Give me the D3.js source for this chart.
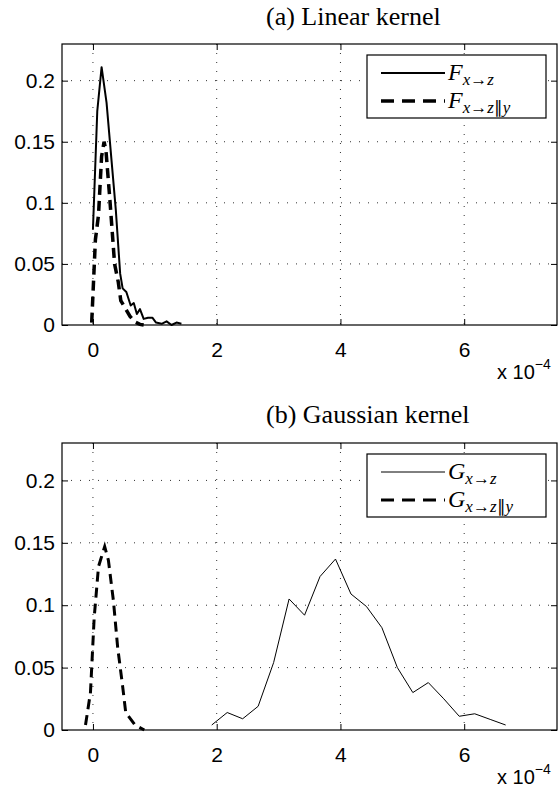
<!DOCTYPE html>
<html>
<head>
<meta charset="utf-8">
<script src="https://cdn.jsdelivr.net/npm/d3@7/dist/d3.min.js"></script>
<style>
  body { margin: 0; background: #fff; }
  svg { display: block; }
</style>
</head>
<body>
<div id="chart"></div>
<script>
// x values are in units of 1e-4
var xTicks = [0, 2, 4, 6];
var yTicks = [0, 0.05, 0.1, 0.15, 0.2];

var linX   = [0, 0.07, 0.14, 0.22, 0.30, 0.37, 0.44, 0.48, 0.54, 0.61, 0.66, 0.71, 0.76, 0.82, 0.89, 0.96, 1.02, 1.11, 1.19, 1.27, 1.35, 1.43];
var linF   = [0.078, 0.175, 0.211, 0.182, 0.135, 0.094, 0.042, 0.030, 0.027, 0.016, 0.018, 0.009, 0.013, 0.005, 0.006, 0.006, 0.002, 0.001, 0.003, 0, 0.002, 0.001];
var linCX  = [-0.02, 0.04, 0.09, 0.14, 0.18, 0.21, 0.27, 0.35, 0.41, 0.45, 0.52, 0.60, 0.68, 0.76, 0.82];
var linCF  = [0.002, 0.07, 0.09, 0.138, 0.150, 0.143, 0.105, 0.05, 0.035, 0.02, 0.014, 0.007, 0.0025, 0.0005, 0];

var gauX   = [1.92, 2.17, 2.42, 2.67, 2.92, 3.17, 3.42, 3.67, 3.92, 4.17, 4.42, 4.67, 4.92, 5.17, 5.42, 5.67, 5.92, 6.17, 6.42, 6.67];
var gauG   = [0.004, 0.014, 0.009, 0.019, 0.054, 0.105, 0.092, 0.123, 0.137, 0.109, 0.099, 0.082, 0.050, 0.030, 0.038, 0.025, 0.011, 0.013, 0.0085, 0.004];
var gauCX  = [-0.12, -0.04, 0.02, 0.09, 0.19, 0.25, 0.33, 0.40, 0.48, 0.53, 0.68, 0.83];
var gauCG  = [0.004, 0.03, 0.09, 0.131, 0.147, 0.136, 0.104, 0.066, 0.035, 0.014, 0.004, 0];

var W = 558, H = 792;
var svg = d3.select("#chart").append("svg").attr("width", W).attr("height", H);

var panels = [
  { title: "(a) Linear kernel", titleY: 25, top: 44, bottom: 325, sym: "F",
    solid: { x: linX, y: linF, w: 2 }, dashed: { x: linCX, y: linCF, w: 3.5 } },
  { title: "(b) Gaussian kernel", titleY: 423, top: 443, bottom: 730, sym: "G",
    solid: { x: gauX, y: gauG, w: 1 }, dashed: { x: gauCX, y: gauCG, w: 3 } }
];

var left = 62, right = 557;
var sans = "Liberation Sans, Arial, Helvetica, sans-serif";
var serif = "Liberation Serif, Times New Roman, serif";

panels.forEach(function(p) {
  var x = d3.scaleLinear().domain([-0.5, 7.5]).range([left, right]);
  var y = d3.scaleLinear().domain([0, 0.23]).range([p.bottom, p.top]);
  var g = svg.append("g");
  var ph = p.bottom - p.top, pw = right - left;

  // dotted grid
  g.append("g").selectAll("line").data(xTicks).enter().append("line")
    .attr("x1", function(d) { return x(d); }).attr("x2", function(d) { return x(d); })
    .attr("y1", p.top).attr("y2", p.bottom)
    .attr("stroke", "#333").attr("stroke-width", 1).attr("stroke-dasharray", "1,8");
  g.append("g").selectAll("line").data(yTicks.slice(1)).enter().append("line")
    .attr("y1", function(d) { return y(d); }).attr("y2", function(d) { return y(d); })
    .attr("x1", left).attr("x2", right)
    .attr("stroke", "#333").attr("stroke-width", 1).attr("stroke-dasharray", "1,8");

  // axes, ticks inward on all four sides
  var ax = g.append("g").attr("transform", "translate(0," + p.bottom + ")")
    .call(d3.axisBottom(x).tickValues(xTicks).tickSize(-6).tickPadding(17).tickFormat(d3.format("d")));
  g.append("g").attr("transform", "translate(" + left + ",0)")
    .call(d3.axisLeft(y).tickValues(yTicks).tickSize(-6).tickPadding(7).tickFormat(function(d) { return d === 0 ? "0" : String(d); }));
  g.append("g").attr("transform", "translate(0," + p.top + ")")
    .call(d3.axisTop(x).tickValues(xTicks).tickSize(-6).tickFormat(""));
  g.append("g").attr("transform", "translate(" + right + ",0)")
    .call(d3.axisRight(y).tickValues(yTicks).tickSize(-6).tickFormat(""));
  g.selectAll(".domain").remove();
  g.selectAll(".tick line").attr("stroke", "#000");
  g.selectAll(".tick text").attr("fill", "#000").attr("font-family", sans).attr("font-size", 21);
  g.selectAll("g").attr("font-size", null).attr("font-family", null);
  ax.selectAll(".tick text").attr("dy", "0.71em");
  g.append("rect").attr("x", left).attr("y", p.top).attr("width", pw).attr("height", ph)
    .attr("fill", "none").attr("stroke", "#000").attr("stroke-width", 1.2);

  // lines
  var line = d3.line().x(function(d) { return x(d[0]); }).y(function(d) { return y(d[1]); });
  g.append("path").datum(d3.zip(p.solid.x, p.solid.y)).attr("d", line)
    .attr("fill", "none").attr("stroke", "#000").attr("stroke-width", p.solid.w).attr("stroke-linejoin", "round");
  g.append("path").datum(d3.zip(p.dashed.x, p.dashed.y)).attr("d", line)
    .attr("fill", "none").attr("stroke", "#000").attr("stroke-width", p.dashed.w).attr("stroke-dasharray", "10,6");

  // exponent label
  var ex = g.append("text").attr("x", 497).attr("y", p.bottom + 54)
    .attr("font-family", sans).attr("font-size", 20).attr("fill", "#000");
  ex.append("tspan").text("x 10");
  ex.append("tspan").attr("dy", -10).attr("font-size", 14).text("\u22124");

  // title
  svg.append("text").attr("x", 266).attr("y", p.titleY)
    .attr("font-family", serif).attr("font-size", 26).attr("fill", "#000")
    .text(p.title);

  // legend
  var lx = 367, ly = p.top + 11, lw = 179, lh = 63;
  g.append("rect").attr("x", lx).attr("y", ly).attr("width", lw).attr("height", lh)
    .attr("fill", "#fff").attr("stroke", "#000").attr("stroke-width", 1.2);
  var rows = [
    { w: p.solid.w, dash: null },
    { w: p.dashed.w, dash: "13,8" }
  ];
  rows.forEach(function(r, i) {
    var ry = ly + 18 + i * 28;
    g.append("line").attr("x1", lx + 14).attr("x2", lx + 78).attr("y1", ry).attr("y2", ry)
      .attr("stroke", "#000").attr("stroke-width", r.w).attr("stroke-dasharray", r.dash);
    var t = g.append("text").attr("x", lx + 81).attr("y", ry + 7)
      .attr("font-family", serif).attr("fill", "#000");
    t.append("tspan").attr("font-style", "italic").attr("font-size", 24).text(p.sym);
    var s = t.append("tspan").attr("dy", 5).attr("font-size", 17);
    s.append("tspan").attr("font-style", "italic").text("x");
    s.append("tspan").text("\u2192");
    s.append("tspan").attr("font-style", "italic").text("z");
    if (i === 1) {
      s.append("tspan").text("\u2225");
      s.append("tspan").attr("font-style", "italic").text("y");
    }
  });
});
</script>
</body>
</html>
